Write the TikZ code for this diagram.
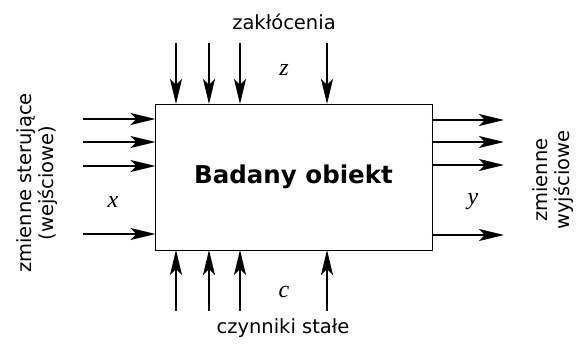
\documentclass[tikz,border=0pt]{standalone}
\usepackage{fontspec}
\setmainfont{DejaVu Sans}
\newfontfamily\mathserif{Liberation Serif}
\usetikzlibrary{arrows.meta}
\begin{document}
\begin{tikzpicture}[x=1pt,y=-1pt,
  sig/.style={line width=1.3pt,-{Stealth[length=25pt,width=12pt,inset=6pt]}},
  lbl/.style={font=\fontsize{19.5}{22}\selectfont,inner sep=0pt},
  var/.style={font=\mathserif\itshape\fontsize{24}{25}\selectfont,inner sep=0pt}]
\useasboundingbox (0,0) rectangle (580,345);
% object box
\node[draw,line width=0.9pt,minimum width=277pt,minimum height=146pt,
      font=\bfseries\fontsize{24.5}{28}\selectfont] (obj) at (293.5,177) {Badany obiekt};
% input arrows (left)
\foreach \i/\yy in {1/119,2/142,3/166,4/234}{
  \coordinate (xi\i) at (83,\yy);
  \coordinate (xo\i) at (155.5,\yy);
  \draw[sig] (xi\i) -- (xo\i);
}
% output arrows (right)
\foreach \i/\yy in {1/120,2/142,3/165,4/235}{
  \coordinate (yi\i) at (431.5,\yy);
  \coordinate (yo\i) at (504,\yy);
  \draw[sig] (yi\i) -- (yo\i);
}
% disturbances (top)
\foreach \i/\xx in {1/176,2/209,3/240,4/327}{
  \coordinate (zi\i) at (\xx,43);
  \coordinate (zo\i) at (\xx,104);
  \draw[sig] (zi\i) -- (zo\i);
}
% constant factors (bottom)
\foreach \i/\xx in {1/176,2/209,3/240,4/327}{
  \coordinate (ci\i) at (\xx,311);
  \coordinate (co\i) at (\xx,250);
  \draw[sig] (ci\i) -- (co\i);
}
% variable symbols
\node[var] (zs) at (284,70) {z};
\node[var] (cs) at (284,292) {c};
\node[var] (xs) at (113,202) {x};
\node[var] (ys) at (473,202) {y};
% group labels
\node[lbl] (zl) at (284,22) {zakłócenia};
\node[lbl] (cl) at (283,328) {czynniki stałe};
\node[lbl,rotate=90,align=center] (xl) at (37,183) {zmienne sterujące\\(wejściowe)};
\node[lbl,rotate=90,align=center] (yl) at (553,180) {zmienne\\wyjściowe};
\end{tikzpicture}
\end{document}
